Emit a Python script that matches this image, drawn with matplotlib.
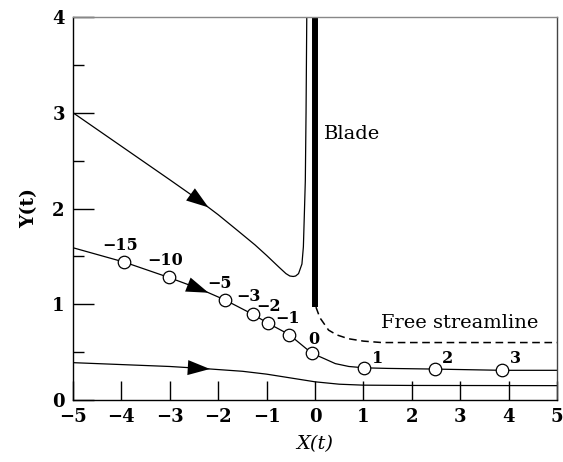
import numpy as np
import matplotlib
matplotlib.use('Agg')
import matplotlib.pyplot as plt

plt.rcParams['font.family'] = ['DejaVu Serif']

# upper streamline (runs into the blade)
upper_x = [-5.0, -4.0, -3.0, -2.38, -2.0, -1.6, -1.24, -1.0, -0.75, -0.6, -0.52,
           -0.45, -0.40, -0.34, -0.27, -0.24, -0.22, -0.20, -0.185, -0.17]
upper_y = [3.0, 2.65, 2.30, 2.08, 1.935, 1.77, 1.62, 1.51, 1.39, 1.32, 1.295,
           1.29, 1.295, 1.32, 1.42, 1.60, 1.94, 2.29, 3.0, 4.0]

# middle streamline, with time markers
mid_x = [-5.0, -3.94, -3.02, -2.38, -1.86, -1.29, -0.965, -0.535, -0.07,
         0.2, 0.42, 0.7, 1.02, 1.5, 2.47, 3.86, 5.0]
mid_y = [1.59, 1.44, 1.28, 1.16, 1.045, 0.896, 0.80, 0.684, 0.49,
         0.43, 0.38, 0.35, 0.336, 0.33, 0.323, 0.31, 0.31]
t_x = [-3.94, -3.02, -1.86, -1.29, -0.965, -0.535, -0.07, 1.02, 2.47, 3.86]
t_y = [1.44, 1.28, 1.045, 0.896, 0.80, 0.684, 0.49, 0.336, 0.323, 0.31]
t_labels = ['\u221215', '\u221210', '\u22125', '\u22123', '\u22122', '\u22121', '0', '1', '2', '3']

# lower streamline
low_x = [-5.0, -4.0, -3.0, -2.2, -1.5, -1.0, -0.5, 0.0, 0.5, 1.0, 2.0, 5.0]
low_y = [0.39, 0.37, 0.35, 0.325, 0.30, 0.27, 0.23, 0.19, 0.165, 0.155, 0.152, 0.15]

# free streamline leaving the blade tip
free_x = [0.02, 0.1, 0.28, 0.45, 0.69, 1.0, 1.38, 5.0]
free_y = [0.97, 0.86, 0.73, 0.68, 0.64, 0.615, 0.60, 0.60]

blade_x = [0.0, 0.0]
blade_y = [0.97, 4.0]

# arrow tip x on each streamline
arrow_tip = [-2.2, -2.2, -2.17]

fig = plt.figure(figsize=(5.63, 4.62), dpi=100)
ax = fig.add_axes([0.1297, 0.1342, 0.8596, 0.8290])

ax.plot(upper_x, upper_y, 'k-', lw=0.9)
ax.plot(mid_x, mid_y, 'k-', lw=0.9)
ax.plot(low_x, low_y, 'k-', lw=0.9)
ax.plot(free_x, free_y, 'k--', lw=1.1, dashes=(5, 3))
ax.plot(blade_x, blade_y, 'k-', lw=4.3, solid_capstyle='butt')
ax.plot(t_x, t_y, 'o', ms=9, mfc='white', mec='k', mew=0.9, zorder=5)

offsets = [(-4, 17), (-4, 17), (-5, 16), (-4, 18), (0, 17), (-2, 16), (2, 14),
           (13, 9), (13, 11), (14, 12)]
for x, y, s, off in zip(t_x, t_y, t_labels, offsets):
    ax.annotate(s, (x, y), xytext=off, textcoords='offset pixels',
                ha='center', va='center', fontsize=11.5, fontweight='bold')

# direction arrows placed on the curves
for (cx, cy), tip in zip([(upper_x, upper_y), (mid_x, mid_y), (low_x, low_y)], arrow_tip):
    y0 = np.interp(tip - 0.5, cx, cy)
    y1 = np.interp(tip, cx, cy)
    ax.annotate('', xy=(tip, y1), xytext=(tip - 0.5, y0),
                arrowprops=dict(arrowstyle='-|>,head_length=0.8,head_width=0.27',
                                color='k', lw=0, shrinkA=0, shrinkB=0,
                                mutation_scale=20))

ax.text(0.18, 2.78, 'Blade', fontsize=14, va='center', ha='left')
ax.text(4.62, 0.80, 'Free streamline', fontsize=14, va='center', ha='right')

ax.set_xlim(-5, 5)
ax.set_ylim(0, 4)
ax.set_xticks(range(-5, 6))
ax.set_yticks(range(0, 5))
ax.set_yticks(np.arange(0.5, 4, 1.0), minor=True)
ax.tick_params(axis='x', direction='in', length=14, width=1, labelsize=13, pad=6)
ax.tick_params(axis='y', direction='in', length=15, width=1, labelsize=13, pad=6)
ax.tick_params(axis='y', which='minor', direction='in', length=8, width=1)
for lab in ax.get_xticklabels() + ax.get_yticklabels():
    lab.set_fontweight('bold')

ax.spines['top'].set_color('#888888')
ax.spines['right'].set_color('#444444')
for s in ax.spines.values():
    s.set_linewidth(1)

ax.set_xlabel('X(t)', fontsize=14, style='italic', labelpad=6)
ax.set_ylabel('Y(t)', fontsize=13.5, fontweight='bold', labelpad=10)

plt.savefig('out.png', dpi=100)
